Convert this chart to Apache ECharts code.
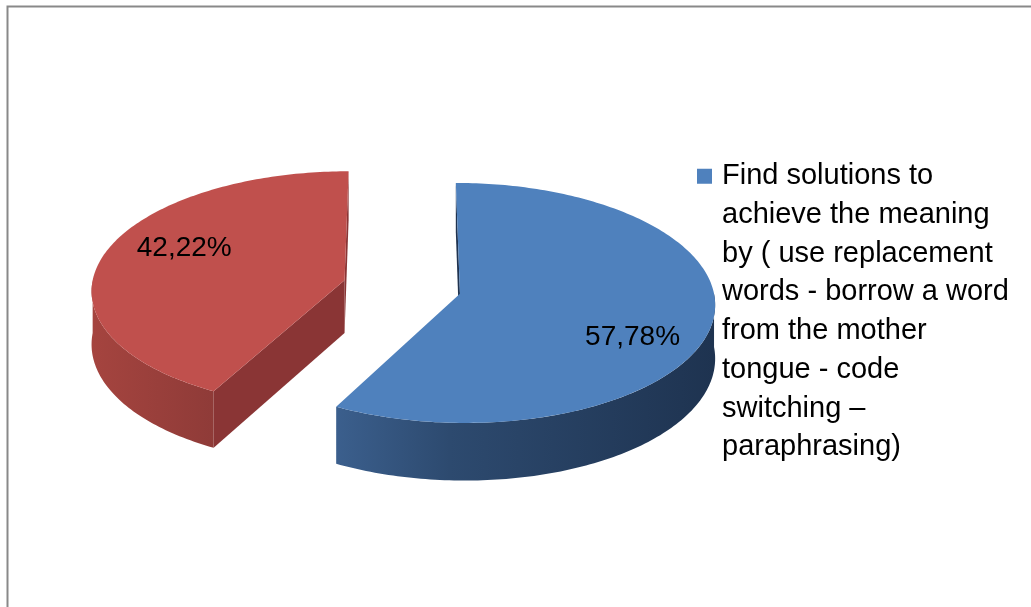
<!DOCTYPE html>
<html>
<head>
<meta charset="utf-8">
<script src="https://cdn.jsdelivr.net/npm/echarts@6/dist/echarts.min.js"></script>
<style>
html, body { margin: 0; padding: 0; background: #fff; }
#pie { width: 1031px; height: 607px; }
</style>
</head>
<body>
<div id="pie"></div>
<script>
// slice names and shares (%)
var categories = [
    'Find solutions to achieve the meaning by ( use replacement words - borrow a word from the mother tongue - code switching – paraphrasing)',
    'Other'
];
var values = [57.78, 42.22];
var legendLines = [
    'Find solutions to',
    'achieve the meaning',
    'by ( use replacement',
    'words - borrow a word',
    'from the mother',
    'tongue - code',
    'switching –',
    'paraphrasing)'
];

var topColors = ['#4F81BD', '#C0504D'];
var sideStops = [
    [[0, '#3B5F8D'], [0.3, '#2D4A6F'], [1, '#1E3350']],
    [[0, '#A5443F'], [1, '#8F3B38']]
];
var cutColors = ['#1F3350', '#8A3535'];

// fake 3d: tilted disc with a bit of perspective
var CENTER = [402, 287];
var RX = 253, RY = 118.3, DEPTH = 53, PERSP = 0.076, EXPLODE = 0.235;

var total = values.reduce(function (a, b) { return a + b; }, 0);
var starts = [], acc = 0;
values.forEach(function (v) { starts.push(acc / total * 360); acc += v; });

function proj(X, Z, h) {
    var s = 1 / (1 - PERSP * Z);
    return [CENTER[0] + X * RX * s, CENTER[1] + Z * RY * s + h * s];
}
function dir(deg) {
    var r = deg * Math.PI / 180;
    return [Math.sin(r), -Math.cos(r)];
}
function rim(apexW, deg, h) {
    var d = dir(deg);
    return proj(apexW[0] + d[0], apexW[1] + d[1], h);
}
function arc(apexW, a, b, h) {
    var pts = [], n = Math.max(2, Math.ceil(Math.abs(b - a)) + 1);
    for (var j = 0; j < n; j++) pts.push(rim(apexW, a + (b - a) * j / (n - 1), h));
    return pts;
}
function area(p) {
    var s = 0;
    for (var j = 0; j < p.length; j++) {
        var q = p[(j + 1) % p.length];
        s += p[j][0] * q[1] - q[0] * p[j][1];
    }
    return s;
}

function renderSlice(params, api) {
    var i = params.dataIndex;
    var v = api.value(0);
    var a0 = starts[i], a1 = a0 + v / total * 360, mid = (a0 + a1) / 2;
    var md = dir(mid);
    var apexW = [md[0] * EXPLODE, md[1] * EXPLODE];
    var apT = proj(apexW[0], apexW[1], 0), apB = proj(apexW[0], apexW[1], DEPTH);
    var base = i === 0 ? 10 : 0;
    var kids = [];

    // cut faces, only the ones turned to us
    [[a0, -1], [a1, 1]].forEach(function (f) {
        var quad = [apT, rim(apexW, f[0], 0), rim(apexW, f[0], DEPTH), apB];
        if (area(quad) * f[1] > 0) {
            kids.push({
                type: 'polygon', z2: base,
                shape: { points: quad },
                style: { fill: cutColors[i] }
            });
        }
    });

    // outer wall, front half
    var s = Math.max(a0, 90), e = Math.min(a1, 270);
    if (e > s) {
        var pts = arc(apexW, s, e, 0).concat(arc(apexW, e, s, DEPTH));
        var xs = pts.map(function (p) { return p[0]; });
        var x0 = Math.min.apply(null, xs), x1 = Math.max.apply(null, xs);
        kids.push({
            type: 'polygon', z2: base + 1,
            shape: { points: pts },
            style: {
                fill: new echarts.graphic.LinearGradient(x0, 0, x1, 0,
                    sideStops[i].map(function (c) { return { offset: c[0], color: c[1] }; }), true)
            }
        });
    }

    // top face
    kids.push({
        type: 'polygon', z2: base + 2,
        shape: { points: [apT].concat(arc(apexW, a0, a1, 0)) },
        style: { fill: topColors[i] }
    });

    // value label
    var lp = proj(apexW[0] + 0.675 * md[0], apexW[1] + 1.314 * md[1] + 0.035, 0);
    kids.push({
        type: 'text', z2: base + 5,
        style: {
            text: v.toFixed(2).replace('.', ',') + '%',
            x: lp[0],
            y: lp[1],
            fill: '#000',
            font: '28px "Liberation Sans", Arial, sans-serif',
            align: 'center',
            verticalAlign: 'middle'
        }
    });
    return { type: 'group', children: kids };
}

var myChart = echarts.init(document.getElementById('pie'));
myChart.setOption({
    animation: false,
    backgroundColor: '#fff',
    graphic: [{
        type: 'polyline',
        shape: { points: [[7.5, 607], [7.5, 6.5], [1031, 6.5]] },
        style: { stroke: '#898989', lineWidth: 2, fill: null },
        silent: true
    }],
    legend: {
        data: [categories[0]],
        left: 697,
        top: 157,
        padding: 0,
        orient: 'vertical',
        // square sits at the top of a tall icon box so it lines up with the first text line
        icon: 'path://M0,0h15v15h-15z M0,285.9h0.001',
        itemWidth: 15,
        itemHeight: 285.9,
        selectedMode: false,
        formatter: function () { return legendLines.join('\n'); },
        textStyle: {
            fontFamily: '"Liberation Sans", Arial, sans-serif',
            fontSize: 29,
            lineHeight: 38.7,
            color: '#000',
            padding: [0, 0, 0, 5]
        }
    },
    series: [{
        type: 'custom',
        name: categories[0],
        coordinateSystem: 'none',
        silent: true,
        itemStyle: { color: topColors[0] },
        renderItem: renderSlice,
        data: values
    }]
});
</script>
</body>
</html>
